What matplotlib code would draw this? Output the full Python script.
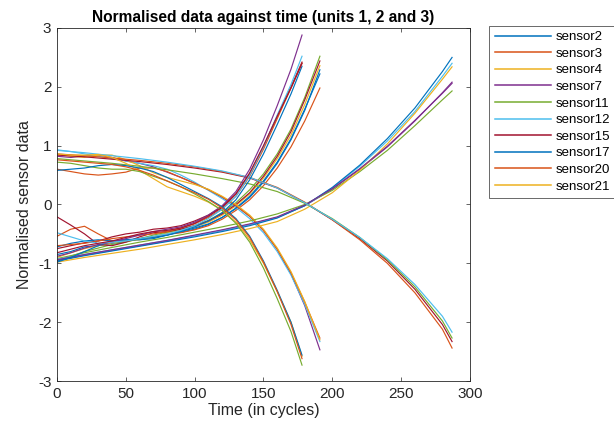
import numpy as np
from matplotlib import pyplot as plt

plt.rcParams['font.family'] = ['Liberation Sans', 'DejaVu Sans']
plt.rcParams['axes.unicode_minus'] = False

# matlab default colour order
colours = ['#0072BD', '#D95319', '#EDB120', '#7E2F8E', '#77AC30', '#4DBEEE', '#A2142F']

sensors = ['sensor2', 'sensor3', 'sensor4', 'sensor7', 'sensor11',
           'sensor12', 'sensor15', 'sensor17', 'sensor20', 'sensor21']

# unit 1 (192 cycles)
t_unit1 = [0, 10, 20, 30, 40, 50, 60, 70, 80, 90, 100, 110, 120, 130, 140, 150, 160, 170, 180, 191]
unit1 = {
    'sensor2': [-0.85, -0.80, -0.72, -0.70, -0.66, -0.63, -0.58, -0.56, -0.52, -0.47, -0.42, -0.34, -0.22, -0.07, 0.12, 0.38, 0.70, 1.10, 1.60, 2.29],
    'sensor3': [-0.54, -0.42, -0.37, -0.50, -0.62, -0.62, -0.58, -0.55, -0.50, -0.48, -0.43, -0.36, -0.25, -0.10, 0.08, 0.32, 0.62, 0.98, 1.42, 1.98],
    'sensor4': [-0.90, -0.82, -0.75, -0.70, -0.65, -0.62, -0.60, -0.55, -0.48, -0.44, -0.38, -0.30, -0.18, -0.02, 0.18, 0.45, 0.78, 1.18, 1.70, 2.36],
    'sensor7': [0.82, 0.80, 0.82, 0.84, 0.80, 0.74, 0.70, 0.64, 0.55, 0.46, 0.36, 0.25, 0.12, -0.02, -0.20, -0.44, -0.76, -1.18, -1.72, -2.47],
    'sensor11': [-0.95, -0.88, -0.80, -0.74, -0.68, -0.64, -0.58, -0.52, -0.47, -0.42, -0.36, -0.27, -0.14, 0.03, 0.25, 0.52, 0.86, 1.28, 1.82, 2.52],
    'sensor12': [0.93, 0.90, 0.86, 0.82, 0.78, 0.74, 0.70, 0.66, 0.60, 0.50, 0.38, 0.24, 0.10, -0.05, -0.24, -0.48, -0.80, -1.20, -1.70, -2.33],
    'sensor15': [-0.21, -0.35, -0.50, -0.68, -0.70, -0.64, -0.55, -0.48, -0.46, -0.42, -0.36, -0.28, -0.16, 0.00, 0.20, 0.48, 0.82, 1.24, 1.78, 2.44],
    'sensor17': [-0.72, -0.66, -0.62, -0.60, -0.62, -0.60, -0.60, -0.58, -0.52, -0.46, -0.40, -0.33, -0.22, -0.06, 0.14, 0.40, 0.72, 1.12, 1.62, 2.22],
    'sensor20': [0.60, 0.56, 0.52, 0.50, 0.52, 0.55, 0.62, 0.62, 0.56, 0.46, 0.36, 0.25, 0.13, -0.02, -0.20, -0.44, -0.76, -1.16, -1.66, -2.27],
    'sensor21': [0.85, 0.82, 0.80, 0.84, 0.84, 0.76, 0.66, 0.54, 0.46, 0.40, 0.34, 0.26, 0.14, 0.00, -0.18, -0.42, -0.74, -1.14, -1.65, -2.30],
}

# unit 2 (287 cycles)
t_unit2 = [0, 20, 40, 60, 80, 100, 120, 140, 160, 180, 200, 220, 240, 260, 280, 287]
unit2 = {
    'sensor2': [-0.95, -0.86, -0.78, -0.70, -0.62, -0.53, -0.44, -0.34, -0.22, -0.02, 0.26, 0.60, 0.98, 1.42, 1.90, 2.08],
    'sensor3': [-0.92, -0.82, -0.73, -0.64, -0.56, -0.47, -0.38, -0.28, -0.16, 0.00, 0.24, 0.56, 0.92, 1.34, 1.78, 1.93],
    'sensor4': [-0.93, -0.85, -0.77, -0.69, -0.61, -0.53, -0.44, -0.34, -0.22, -0.02, 0.28, 0.65, 1.08, 1.58, 2.18, 2.40],
    'sensor7': [0.84, 0.81, 0.77, 0.73, 0.68, 0.62, 0.55, 0.45, 0.28, 0.03, -0.26, -0.58, -0.96, -1.44, -2.04, -2.33],
    'sensor11': [-0.96, -0.87, -0.79, -0.71, -0.63, -0.55, -0.46, -0.36, -0.23, -0.02, 0.29, 0.67, 1.12, 1.64, 2.26, 2.50],
    'sensor12': [0.86, 0.83, 0.79, 0.75, 0.70, 0.64, 0.56, 0.46, 0.29, 0.04, -0.26, -0.60, -1.00, -1.50, -2.12, -2.44],
    'sensor15': [-0.98, -0.90, -0.83, -0.76, -0.68, -0.60, -0.51, -0.41, -0.29, -0.08, 0.20, 0.58, 1.03, 1.55, 2.13, 2.34],
    'sensor17': [-0.94, -0.85, -0.77, -0.69, -0.61, -0.52, -0.43, -0.33, -0.21, -0.01, 0.27, 0.61, 0.99, 1.43, 1.89, 2.06],
    'sensor20': [0.78, 0.74, 0.70, 0.65, 0.59, 0.52, 0.44, 0.35, 0.22, 0.02, -0.24, -0.56, -0.94, -1.40, -1.98, -2.27],
    'sensor21': [0.92, 0.88, 0.83, 0.78, 0.72, 0.65, 0.57, 0.46, 0.28, 0.03, -0.25, -0.56, -0.92, -1.36, -1.90, -2.17],
}

# unit 3 (179 cycles)
t_unit3 = [0, 10, 20, 30, 40, 50, 60, 70, 80, 90, 100, 110, 120, 130, 140, 150, 160, 170, 178]
unit3 = {
    'sensor2': [-0.75, -0.70, -0.65, -0.62, -0.55, -0.50, -0.47, -0.42, -0.40, -0.36, -0.28, -0.18, -0.04, 0.18, 0.52, 0.98, 1.50, 2.00, 2.42],
    'sensor3': [-0.98, -0.90, -0.80, -0.70, -0.62, -0.60, -0.58, -0.56, -0.52, -0.45, -0.38, -0.28, -0.14, 0.08, 0.42, 0.86, 1.36, 1.88, 2.35],
    'sensor4': [-0.70, -0.68, -0.66, -0.62, -0.58, -0.55, -0.52, -0.50, -0.46, -0.40, -0.33, -0.22, -0.08, 0.14, 0.48, 0.94, 1.46, 1.98, 2.40],
    'sensor7': [0.86, 0.84, 0.84, 0.85, 0.80, 0.70, 0.58, 0.44, 0.30, 0.22, 0.14, 0.04, -0.10, -0.30, -0.60, -1.00, -1.48, -2.00, -2.58],
    'sensor11': [-0.88, -0.82, -0.74, -0.68, -0.64, -0.58, -0.52, -0.46, -0.42, -0.38, -0.30, -0.18, -0.02, 0.22, 0.60, 1.10, 1.68, 2.30, 2.88],
    'sensor12': [0.72, 0.70, 0.66, 0.62, 0.60, 0.60, 0.56, 0.48, 0.40, 0.30, 0.18, 0.05, -0.10, -0.32, -0.64, -1.08, -1.60, -2.16, -2.73],
    'sensor15': [-0.48, -0.55, -0.62, -0.66, -0.64, -0.62, -0.58, -0.54, -0.50, -0.44, -0.36, -0.24, -0.08, 0.14, 0.50, 0.98, 1.52, 2.04, 2.52],
    'sensor17': [-0.82, -0.76, -0.70, -0.66, -0.62, -0.56, -0.50, -0.46, -0.44, -0.40, -0.32, -0.20, -0.05, 0.18, 0.54, 1.00, 1.50, 1.98, 2.40],
    'sensor20': [0.58, 0.60, 0.62, 0.66, 0.68, 0.66, 0.62, 0.56, 0.46, 0.34, 0.22, 0.10, -0.04, -0.24, -0.54, -0.96, -1.46, -2.00, -2.56],
    'sensor21': [0.76, 0.74, 0.72, 0.70, 0.68, 0.64, 0.58, 0.50, 0.40, 0.30, 0.20, 0.09, -0.06, -0.26, -0.56, -0.98, -1.48, -2.04, -2.62],
}

fig = plt.figure(figsize=(6.14, 4.28), dpi=100)
ax = fig.add_axes([0.0928, 0.1098, 0.6726, 0.8248])

k = 0
handles = []
for t, unit in [(t_unit1, unit1), (t_unit2, unit2), (t_unit3, unit3)]:
    for s in sensors:
        line, = ax.plot(t, unit[s], color=colours[k % 7], linewidth=0.85)
        if k < len(sensors):
            handles.append(line)
        k += 1

ax.set_xlim(0, 300)
ax.set_ylim(-3, 3)
ax.set_xticks([0, 50, 100, 150, 200, 250, 300])
ax.set_yticks([-3, -2, -1, 0, 1, 2, 3])
ax.tick_params(direction='in', top=True, right=True, length=3, width=0.5,
               labelsize=11, colors='#262626', pad=4)
for sp in ax.spines.values():
    sp.set_linewidth(0.6)
    sp.set_color('#262626')

ax.set_title('Normalised data against time (units 1, 2 and 3)', fontsize=11.2,
             fontweight='bold', pad=4)
ax.set_xlabel('Time (in cycles)', fontsize=11.5, color='#262626', labelpad=2)
ax.set_ylabel('Normalised sensor data', fontsize=11.5, color='#262626', labelpad=4)

leg = fig.legend(handles, sensors, loc='upper left', bbox_to_anchor=(0.797, 0.94),
                 fontsize=9.5, frameon=True, fancybox=False, handlelength=4.3,
                 handletextpad=0.3, labelspacing=0.33, borderpad=0.4,
                 borderaxespad=0)
leg.get_frame().set_edgecolor('#262626')
leg.get_frame().set_linewidth(0.6)
for h in leg.get_lines():
    h.set_linewidth(1.1)

fig.savefig('out.png', dpi=100)
